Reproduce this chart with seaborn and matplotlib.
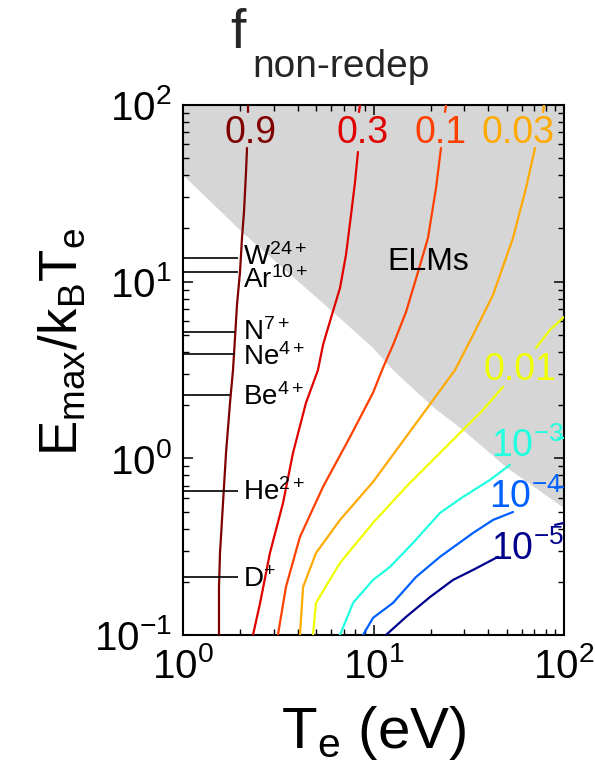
import numpy as np
import pandas as pd
import matplotlib
matplotlib.use("Agg")
import matplotlib.pyplot as plt
import seaborn as sns

# ---------------- data ----------------
levels = ["0.9", "0.3", "0.1", "0.03", "0.01", "1e-3", "1e-4", "1e-5"]
level_colors = ["#800000", "#e00000", "#ff4000", "#ffaa00", "#f0ff00",
                "#20ffe0", "#0060ff", "#00008c"]

# contour f = 0.9
te_090_top = [2.19, 2.19]
e_090_top = [100, 91.3]
te_090 = [2.168, 2.142, 2.090, 2.040, 1.992, 1.920, 1.875, 1.830, 1.765,
          1.682, 1.622, 1.564, 1.545, 1.545]
e_090 = [57.1, 41.77, 24.8, 17.67, 11.35, 7.38, 4.80, 3.16, 2.06, 1.073,
         0.559, 0.291, 0.187, 0.1]
# contour f = 0.3
te_030_top = [8.50, 8.39]
e_030_top = [100, 91.3]
te_030 = [8.29, 8.00, 7.62, 7.17, 6.67, 5.98, 5.43, 5.11, 4.42, 3.78, 3.35,
          2.86, 2.54, 2.33]
e_030 = [54.2, 36.66, 23.85, 14.16, 9.21, 6.23, 4.38, 3.16, 2.06, 1.073,
         0.559, 0.291, 0.152, 0.1]
# contour f = 0.1
te_010_top = [24.02, 23.73]
e_010_top = [100, 91.3]
te_010 = [22.61, 21.29, 19.32, 17.13, 14.82, 12.66, 11.21, 9.94, 7.53, 5.43,
          4.11, 3.47, 3.15]
e_010 = [57.1, 33.90, 17.67, 11.35, 6.74, 4.38, 3.25, 2.35, 1.322, 0.689,
         0.359, 0.187, 0.1]
# contour f = 0.03
te_003_top = [78.5, 77.6]
e_003_top = [100, 91.3]
te_003 = [70.44, 63.17, 54.00, 42.39, 33.30, 26.78, 20.04, 14.82, 9.94,
          6.67, 4.99, 4.27, 4.11]
e_003 = [57.1, 33.90, 17.67, 8.41, 4.99, 3.16, 2.06, 1.322, 0.735, 0.448,
         0.291, 0.187, 0.1]
# contour f = 0.01
te_001_top = [100, 84.4, 71.29]
e_001_top = [6.31, 5.33, 4.22]
te_001 = [47.84, 37.58, 28.45, 20.53, 14.82, 9.94, 6.67, 4.99, 4.81]
e_001 = [2.54, 1.879, 1.392, 0.979, 0.689, 0.431, 0.256, 0.152, 0.1]
# contour f = 1e-3
te_1e3_right = [93.0, 100]
e_1e3_right = [1.304, 1.304]
te_1e3 = [52.05, 40.88, 29.50, 22.34, 16.12, 12.21, 9.94, 7.81, 6.67]
e_1e3 = [0.918, 0.755, 0.605, 0.491, 0.332, 0.243, 0.205, 0.152, 0.1]
# contour f = 1e-4
te_1e4_right = [89.72, 100]
e_1e4_right = [0.680, 0.689]
te_1e4 = [54.00, 42.39, 33.30, 22.34, 16.72, 12.66, 9.94, 8.81]
e_1e4 = [0.497, 0.448, 0.378, 0.277, 0.213, 0.152, 0.125, 0.1]
# contour f = 1e-5
te_1e5_right = [89.72, 100]
e_1e5_right = [0.420, 0.431]
te_1e5 = [45.03, 33.30, 26.15, 19.80, 14.82, 11.63]
e_1e5 = [0.277, 0.2335, 0.205, 0.164, 0.1266, 0.1]

# ELM region lower boundary
elm_te = [1, 2.04, 6.13, 9.94, 12.66, 20.53, 29.50, 49.62, 100]
elm_e = [40.17, 19.11, 6.74, 4.22, 3.16, 1.954, 1.448, 0.894, 0.524]

# ion markers
ion_names = [r"W$^{24+}$", r"Ar$^{10+}$", r"N$^{7+}$", r"Ne$^{4+}$",
             r"Be$^{4+}$", r"He$^{2+}$", r"D$^{+}$"]
ion_e = [13.6, 11.3, 5.19, 3.9, 2.29, 0.655, 0.213]
ion_line_end = [1.94, 1.94, 1.87, 1.87, 1.77, 1.94, 1.94]
ion_label_e = [12.43, 9.21, 4.68, 3.38, 2.01, 0.582, 0.187]
ion_label_te = 2.07

# contour labels
clabel_text = ["0.9", "0.3", "0.1", "0.03", "0.01",
               r"10$^{-3}$", r"10$^{-4}$", r"10$^{-5}$"]
clabel_te = [2.25, 8.71, 22.6, 57.4, 58.7, 64.0, 63.2, 64.0]
clabel_e = [60.9, 60.9, 60.9, 60.9, 2.78, 1.018, 0.524, 0.266]

# ---------------- build table ----------------
segments = [
    ("0.9", te_090_top, e_090_top), ("0.9", te_090, e_090),
    ("0.3", te_030_top, e_030_top), ("0.3", te_030, e_030),
    ("0.1", te_010_top, e_010_top), ("0.1", te_010, e_010),
    ("0.03", te_003_top, e_003_top), ("0.03", te_003, e_003),
    ("0.01", te_001_top, e_001_top), ("0.01", te_001, e_001),
    ("1e-3", te_1e3_right, e_1e3_right), ("1e-3", te_1e3, e_1e3),
    ("1e-4", te_1e4_right, e_1e4_right), ("1e-4", te_1e4, e_1e4),
    ("1e-5", te_1e5_right, e_1e5_right), ("1e-5", te_1e5, e_1e5),
]
rows = []
for i, (lev, tx, ey) in enumerate(segments):
    for k, (a, b) in enumerate(zip(tx, ey)):
        rows.append({"level": lev, "seg": i, "order": k, "Te": a, "E": b})
df = pd.DataFrame(rows)

# ---------------- style ----------------
sns.set_theme(style="ticks")
plt.rcParams["font.family"] = ["Liberation Sans", "DejaVu Sans"]
plt.rcParams["mathtext.fontset"] = "custom"
plt.rcParams["mathtext.rm"] = "Liberation Sans"
plt.rcParams["mathtext.it"] = "Liberation Sans:italic"
plt.rcParams["mathtext.bf"] = "Liberation Sans:bold"
plt.rcParams["mathtext.sf"] = "Liberation Sans"
plt.rcParams["axes.unicode_minus"] = True

W, H = 595, 780
fig = plt.figure(figsize=(W / 100, H / 100), dpi=100)
ax = fig.add_axes([183 / W, 1 - 635 / H, (564 - 183) / W, (635 - 105) / H])
ax.set_xscale("log")
ax.set_yscale("log")
ax.set_facecolor("white")

grey = "#d6d6d6"
ax.fill_between(elm_te, elm_e, 100, color=grey, lw=0, zorder=0)

sns.lineplot(data=df, x="Te", y="E", hue="level", units="seg",
             estimator=None, sort=False,
             palette=dict(zip(levels, level_colors)),
             linewidth=1.6, legend=False, ax=ax, zorder=3)

ax.hlines(ion_e, 1, ion_line_end, color="black", lw=1.2, zorder=4)
for name, y in zip(ion_names, ion_label_e):
    ax.text(ion_label_te, y, name, fontsize=20, ha="left", va="baseline",
            color="black", zorder=5)

for txt, x, y, c in zip(clabel_text, clabel_te, clabel_e, level_colors):
    ax.text(x, y, txt, fontsize=27, ha="center", va="baseline", color=c,
            zorder=5)

ax.text(19.3, 11.6, "ELMs", fontsize=23, ha="center", va="baseline",
        color="black", zorder=5)

ax.set_xlim(1, 100)
ax.set_ylim(0.1, 100)

for s in ax.spines.values():
    s.set_linewidth(1.5)
    s.set_color("black")
ax.tick_params(which="both", direction="in", top=True, right=True,
               color="black", labelsize=29, labelcolor="black")
ax.tick_params(which="major", length=7, width=1.1)
ax.tick_params(which="minor", length=4, width=1.0)
ax.tick_params(axis="x", which="major", pad=9)
ax.tick_params(axis="y", which="major", pad=8)

ax.set_xlabel(r"T$_\mathregular{e}$ (eV)", fontsize=42, color="black")
ax.xaxis.label.set_va("top")
ax.xaxis.set_label_coords(0.5, -0.13)

ax.set_ylabel(r"E$_\mathregular{max}$/k$_\mathregular{B}$T$_\mathregular{e}$",
              fontsize=38, color="black")
ax.yaxis.label.set_rotation_mode("default")
ax.yaxis.label.set_ha("right")
ax.yaxis.label.set_va("center")
ax.yaxis.set_label_coords((88 - 183) / 381, (635 - 342) / 530)

fig.text(230 / W, 1 - 48 / H, "f", fontsize=40, ha="left", va="baseline")
fig.text(252 / W, 1 - 77 / H, "non-redep", fontsize=28, ha="left",
         va="baseline")

fig.savefig("out.png", dpi=100, facecolor="white")
